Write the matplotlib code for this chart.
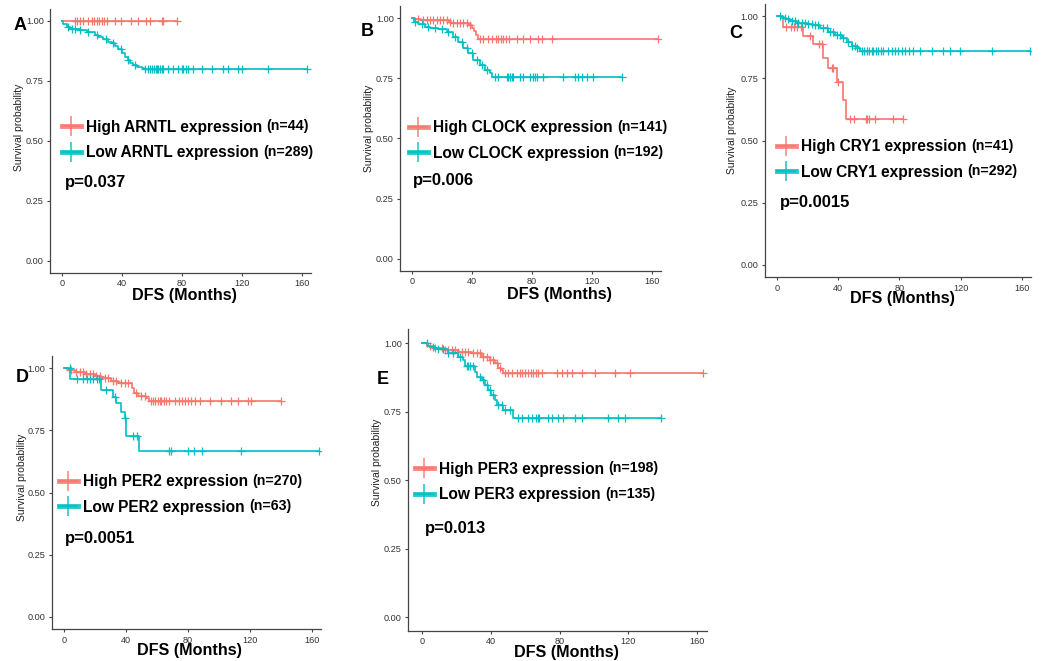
import numpy as np
import matplotlib
matplotlib.use("Agg")
import matplotlib.pyplot as plt
from matplotlib.lines import Line2D

RED = "#F8766D"
TEAL = "#00BFC4"

# ---- data: KM step times (months) / survival, end time, censor times ----
A_high_t = [0]
A_high_s = [1.0]
A_high_end = 76.5
A_high_c = [8.7, 10.2, 12, 14.2, 17.1, 19.8, 21.3, 23.1, 24.9, 26.4, 28, 29.8, 35.3, 39.1,
            46, 50.9, 55.8, 58.7, 66.4, 67.6, 76.4]
A_low_t = [0, 0.9, 3.1, 5.3, 8.7, 12, 16.4, 22, 24.2, 27.6, 30.9, 33.1, 35.3, 37.6, 39.8,
           42, 43.8, 45.3, 47.6, 49.8, 53.1, 54.9]
A_low_s = [1.0, 0.988, 0.975, 0.968, 0.965, 0.962, 0.955, 0.942, 0.932, 0.924, 0.914, 0.907,
           0.896, 0.882, 0.865, 0.851, 0.838, 0.826, 0.817, 0.81, 0.803, 0.80]
A_low_end = 163
A_low_c = [4.2, 6.4, 8.7, 12, 17.1, 23.1, 29.3, 34.2, 39.1, 44.2, 48.7, 55.3, 57.1, 58.7, 60.2,
           61.6, 62.4, 63.1, 64.2, 65.3, 66.4, 67.6, 70.9, 74.2, 77.6, 79.8, 80.9, 82.4, 84.2,
           87.6, 93.1, 99.8, 107.6, 110.9, 117.1, 119.8, 137.6, 163]

B_high_t = [0, 2, 6, 24.5, 26, 37.8, 40, 41.5, 42.8, 44.2]
B_high_s = [1.0, 0.995, 0.99, 0.985, 0.978, 0.97, 0.96, 0.945, 0.93, 0.912]
B_high_end = 164.2
B_high_c = [4.2, 7.6, 9.8, 12, 14.2, 16.4, 18.7, 20.9, 23.1, 25.3, 27.6, 29.8, 32, 34.2, 36.4,
            38.7, 45.3, 47.6, 50.9, 53.1, 56, 57.6, 59.1, 60.9, 62.7, 64.9, 69.8, 74.2, 78.7,
            84.2, 86.4, 93.1, 164.2]
B_low_t = [0, 1.1, 4.2, 8.7, 12, 17.6, 23.1, 27.6, 30.9, 34.2, 37.6, 40.9, 45.3, 48.7, 52, 53.6]
B_low_s = [1.0, 0.985, 0.975, 0.962, 0.958, 0.953, 0.943, 0.923, 0.902, 0.874, 0.853, 0.826,
           0.805, 0.784, 0.77, 0.757]
B_low_end = 140
B_low_c = [2, 6.4, 10.9, 15.3, 19.8, 24.2, 28.7, 33.1, 36.4, 39.8, 43.1, 46.4, 49.8, 55.3, 57.6,
           63.1, 64.2, 65.3, 66.4, 67.6, 72, 74.2, 78.7, 80.9, 82, 83.1, 87.6, 100.9, 108.7,
           110.9, 113.1, 116.4, 120.9, 140]

C_high_t = [0, 3.7, 17.2, 23.7, 30.3, 33.5, 39, 42.9, 45.1]
C_high_s = [1.0, 0.955, 0.92, 0.886, 0.833, 0.79, 0.736, 0.663, 0.587]
C_high_end = 82.5
C_high_c = [5.9, 8.9, 11.1, 13.3, 15.5, 21.5, 27.6, 29.2, 35.7, 36.8, 40.1, 47.7, 50.3, 58.1,
            59, 59.9, 64, 75.5, 82.5]
C_low_t = [0, 3, 6.1, 8.5, 12.8, 19.4, 23.7, 28.1, 33.5, 38, 42.2, 45.5, 48.8, 52.1, 54.2]
C_low_s = [1.0, 0.993, 0.986, 0.98, 0.973, 0.968, 0.962, 0.95, 0.937, 0.923, 0.91, 0.897,
           0.879, 0.87, 0.859]
C_low_end = 165.3
C_low_c = [2, 5.2, 7.4, 9.6, 11.8, 13.9, 16.1, 18.3, 20.5, 22.6, 24.8, 27, 30.3, 32.5, 34.6,
           36.8, 39, 41.2, 43.3, 46.6, 48.8, 50.9, 52.5, 55.2, 57, 58.6, 60.3, 61.8, 62.9, 64.7,
           66.2, 67.7, 69, 72.7, 74.9, 77.1, 79.3, 81.4, 83.6, 86.4, 88.6, 93.4, 101, 108.6,
           113, 119.5, 140.2, 165.3]

D_high_t = [0, 2, 6.9, 13.3, 19.8, 24.1, 30.5, 34.8, 43.9, 45.2, 47.7, 53.1, 54.6]
D_high_s = [1.0, 0.992, 0.985, 0.976, 0.968, 0.958, 0.949, 0.938, 0.918, 0.901, 0.889, 0.878,
            0.869]
D_high_end = 140
D_high_c = [4.7, 8, 10.1, 12.3, 14.4, 16.6, 18.7, 20.9, 23, 26.2, 28.4, 31.6, 33.8, 37, 39.1,
            41.3, 46.7, 49.9, 52, 55.9, 57.4, 58.9, 60.6, 61.7, 62.8, 64.5, 66, 67.5, 71.4, 74,
            76.1, 77.8, 80, 82.1, 84.3, 87.5, 94, 101.5, 107.9, 112.3, 118.7, 120.9, 140]
D_low_t = [0, 4, 24.1, 31.6, 33.8, 37, 39.1, 40.2, 48.5]
D_low_s = [1.0, 0.955, 0.91, 0.885, 0.858, 0.825, 0.798, 0.727, 0.667]
D_low_end = 164.5
D_low_c = [3.9, 8.2, 12.5, 15, 16.8, 18.9, 21.1, 22.8, 27, 32.9, 39.4, 44.7, 46.9, 68, 68.8,
           80.2, 84, 88.8, 114, 164.5]

E_high_t = [0, 3, 7.6, 13.4, 21.1, 28.9, 34.7, 39.5, 42.5, 44.4, 46, 47.3]
E_high_s = [1.0, 0.99, 0.983, 0.974, 0.968, 0.962, 0.95, 0.938, 0.926, 0.91, 0.901, 0.892]
E_high_end = 163.7
E_high_c = [4.7, 7.6, 11.4, 13.4, 15.3, 17.3, 19.2, 21.1, 23.1, 25, 27, 29.9, 31.8, 33.7, 35.7,
            37.6, 39.5, 41.5, 43.4, 45.4, 48.3, 50.2, 52.2, 55.1, 57, 58.4, 59.9, 61.9, 63.4,
            64.8, 66.1, 67.7, 69.6, 78.3, 81.2, 84.2, 87.1, 92.9, 100.7, 112.3, 121, 163.7]
E_low_t = [0, 3.5, 4.7, 7.6, 15.3, 21.1, 24.1, 25, 30.8, 31.8, 34.7, 36.6, 38.6, 40.1, 42.5,
           43.4, 47.3, 53.1]
E_low_s = [1.0, 0.99, 0.985, 0.978, 0.962, 0.95, 0.938, 0.917, 0.895, 0.877, 0.865, 0.847,
           0.828, 0.81, 0.792, 0.774, 0.755, 0.725]
E_low_end = 138.8
E_low_c = [2.7, 6.6, 9.5, 12.4, 15.3, 18.2, 22.1, 26, 27, 27.9, 29.9, 33.7, 35.7, 37.6, 39.5,
           41.5, 44, 46.3, 48.3, 51.2, 56, 58, 61.9, 63.8, 66.1, 67.3, 68.1, 73.5, 75.4, 79.3,
           82.2, 89, 92.9, 108.4, 114.2, 118.1, 138.8]

genes = ["ARNTL", "CLOCK", "CRY1", "PER2", "PER3"]
n_high = [44, 141, 41, 270, 198]
n_low = [289, 192, 292, 63, 135]
pvals = ["p=0.037", "p=0.006", "p=0.0015", "p=0.0051", "p=0.013"]
letters = ["A", "B", "C", "D", "E"]
curves = [
    ((A_high_t, A_high_s, A_high_end, A_high_c), (A_low_t, A_low_s, A_low_end, A_low_c)),
    ((B_high_t, B_high_s, B_high_end, B_high_c), (B_low_t, B_low_s, B_low_end, B_low_c)),
    ((C_high_t, C_high_s, C_high_end, C_high_c), (C_low_t, C_low_s, C_low_end, C_low_c)),
    ((D_high_t, D_high_s, D_high_end, D_high_c), (D_low_t, D_low_s, D_low_end, D_low_c)),
    ((E_high_t, E_high_s, E_high_end, E_high_c), (E_low_t, E_low_s, E_low_end, E_low_c)),
]

# ---- layout in pixels: x of month 0, px per month, y of 1.0, y of 0.0 ----
W, H = 1042, 661
layout = [
    dict(x0=62, pxm=1.5, y1=21, y0=261, leg=(62, 127, 153), p=(65, 183), let=(14, 26), dfs=(184, 296), yl=(19, 127)),
    dict(x0=412, pxm=1.5, y1=18, y0=259, leg=(409, 128, 153), p=(413, 180), let=(361, 32), dfs=(559, 294), yl=(369, 128)),
    dict(x0=777, pxm=1.531, y1=16, y0=265, leg=(777, 147, 172), p=(780, 202), let=(729, 33), dfs=(902, 299), yl=(732, 130)),
    dict(x0=64, pxm=1.55, y1=368, y0=617, leg=(59, 482, 507), p=(65, 538), let=(16, 378), dfs=(189, 651), yl=(22, 477)),
    dict(x0=422, pxm=1.719, y1=343, y0=617, leg=(415, 469, 495), p=(425, 529), let=(377, 380), dfs=(566, 653), yl=(377, 462)),
]

BOLD = "Liberation Sans"
PLAIN = "Liberation Sans"


def fx(x):
    return x / W


def fy(y):
    return 1 - y / H


fig = plt.figure(figsize=(W / 100, H / 100), dpi=100)

for i, lay in enumerate(layout):
    x0, pxm, y1, y0 = lay["x0"], lay["pxm"], lay["y1"], lay["y0"]
    span = y0 - y1
    left = x0 - 8 * pxm
    bottom = y0 + 0.05 * span
    ax = fig.add_axes([fx(left), fy(bottom), 174 * pxm / W, 1.1 * span / H])
    ax.set_xlim(-8, 166)
    ax.set_ylim(-0.05, 1.05)

    for (t, s, end, c), col in zip(curves[i], [RED, TEAL]):
        t = np.array(t, float)
        s = np.array(s, float)
        ax.step(np.append(t, end), np.append(s, s[-1]), where="post", color=col, lw=1.2)
        c = np.array(c, float)
        cs = s[np.searchsorted(t, c, side="right") - 1]
        ax.plot(c, cs, ls="none", marker="+", ms=6, mew=0.9, color=col)

    ax.set_xticks([0, 40, 80, 120, 160])
    ax.set_yticks([0, 0.25, 0.5, 0.75, 1.0])
    ax.set_yticklabels(["0.00", "0.25", "0.50", "0.75", "1.00"])
    for sp in ["top", "right"]:
        ax.spines[sp].set_visible(False)
    for sp in ["left", "bottom"]:
        ax.spines[sp].set_color("#444444")
        ax.spines[sp].set_linewidth(0.9)
    ax.tick_params(length=2.5, width=0.8, color="#444444", labelsize=6.6, labelcolor="#333333", pad=2)
    for lab in ax.get_xticklabels() + ax.get_yticklabels():
        lab.set_family(PLAIN)

    # legend
    handles = [Line2D([], [], color=RED, lw=3.5, marker="+", ms=14, mew=1.2, alpha=0.85),
               Line2D([], [], color=TEAL, lw=3.5, marker="+", ms=14, mew=1.2, alpha=0.85)]
    labels = [f"High {genes[i]} expression", f"Low {genes[i]} expression"]
    lx, r1, r2 = lay["leg"]
    leg = ax.legend(handles, labels, loc="center left", bbox_to_anchor=(fx(lx), fy((r1 + r2) / 2)),
                    bbox_transform=fig.transFigure, frameon=False, borderpad=0, borderaxespad=0,
                    handlelength=1.2, handletextpad=0.35, labelspacing=0.68,
                    prop=dict(family=BOLD, weight="bold", size=11.2))
    for txt, n in zip(leg.get_texts(), [n_high[i], n_low[i]]):
        ax.annotate(f"(n={n})", xy=(1, 0), xycoords=txt, xytext=(3, 1), textcoords="offset points",
                    ha="left", va="bottom", fontsize=10.2, fontweight="bold", family=BOLD, zorder=10)

    fig.text(fx(lay["p"][0]), fy(lay["p"][1]), pvals[i], ha="left", va="center",
             fontsize=12, fontweight="bold", family=BOLD)
    fig.text(fx(lay["let"][0]), fy(lay["let"][1]), letters[i], ha="left", va="center",
             fontsize=13, fontweight="bold", family=BOLD)
    fig.text(fx(lay["dfs"][0]), fy(lay["dfs"][1]), "DFS (Months)", ha="center", va="center",
             fontsize=11.6, fontweight="bold", family=BOLD)
    fig.text(fx(lay["yl"][0]), fy(lay["yl"][1]), "Survival probability", ha="center", va="center",
             rotation=90, fontsize=7.5, family=PLAIN, color="#222222")

fig.savefig("out.png", dpi=100)
